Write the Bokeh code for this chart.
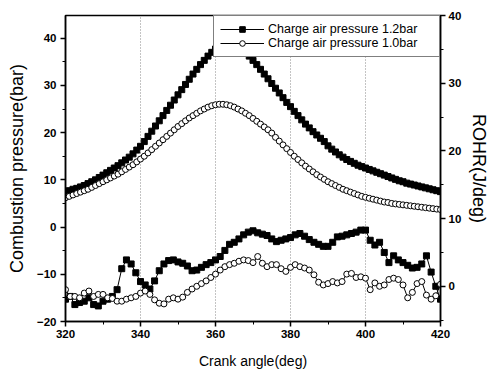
import numpy as np
from bokeh.plotting import figure
from bokeh.models import Range1d, LinearAxis, Legend, LegendItem, FixedTicker
from bokeh.embed import file_html
from bokeh.resources import INLINE

# ---------------- data ----------------
angle_p = np.arange(320, 421, 1.0)  # crank angle grid for pressure (deg)
pressure_12 = [
    7.5, 7.7, 8.0, 8.2, 8.5, 8.8, 9.2, 9.6, 10.0, 10.5,
    11.0, 11.5, 12.0, 12.5, 13.0, 13.6, 14.2, 14.8, 15.5, 16.3,
    17.1, 18.1, 19.2, 20.3, 21.4, 22.5, 23.6, 24.7, 25.8, 26.9,
    28.0, 29.1, 30.2, 31.3, 32.4, 33.4, 34.4, 35.3, 36.2, 37.0,
    37.7, 38.3, 38.8, 39.1, 39.2, 39.1, 38.7, 38.0, 37.1, 36.2,
    35.3, 34.4, 33.4, 32.4, 31.4, 30.4, 29.4, 28.4, 27.4, 26.4,
    25.5, 24.5, 23.6, 22.7, 21.8, 21.0, 20.2, 19.5, 18.8, 18.1,
    17.2, 16.5, 15.9, 15.3, 14.8, 14.3, 13.9, 13.5, 13.1, 12.8,
    12.5, 12.2, 11.9, 11.6, 11.3, 11.0, 10.7, 10.4, 10.1, 9.8,
    9.6, 9.3, 9.1, 8.9, 8.7, 8.5, 8.3, 8.1, 7.9, 7.7,
    7.5,
]
pressure_10 = [
    6.2, 6.5, 6.8, 7.1, 7.4, 7.7, 8.0, 8.4, 8.8, 9.2,
    9.6, 10.0, 10.4, 10.8, 11.2, 11.7, 12.2, 12.7, 13.2, 13.8,
    14.4, 15.0, 15.7, 16.4, 17.1, 17.8, 18.5, 19.2, 19.9, 20.6,
    21.3, 21.9, 22.5, 23.1, 23.6, 24.1, 24.6, 25.0, 25.4, 25.7,
    25.9, 26.0, 26.0, 25.9, 25.7, 25.4, 25.0, 24.6, 24.1, 23.6,
    23.0, 22.4, 21.8, 21.2, 20.6, 19.9, 19.0, 18.2, 17.4, 16.6,
    15.8, 15.0, 14.3, 13.6, 12.9, 12.3, 11.7, 11.1, 10.6, 10.1,
    9.6, 9.2, 8.8, 8.4, 8.0, 7.7, 7.4, 7.1, 6.8, 6.5,
    6.3, 6.1, 5.9, 5.7, 5.5, 5.3, 5.2, 5.0, 4.9, 4.8,
    4.7, 4.6, 4.5, 4.4, 4.3, 4.2, 4.1, 4.0, 3.9, 3.8,
    3.7,
]

angle_r = np.arange(320, 420.01, 1.25)  # crank angle grid for ROHR (deg)
rohr_12 = [
    -1.9, -1.5, -2.7, -2.4, -2.2, -1.7, -2.7, -2.9, -2.2, -1.9,
    -1.5, -0.5, 2.6, 3.9, 3.3, 2.0, 0.7, 0.2, -0.4, 0.8,
    2.3, 3.3, 3.8, 3.9, 3.6, 3.4, 3.0, 2.3, 2.4, 2.8,
    3.2, 3.5, 3.9, 4.4, 5.3, 6.2, 6.5, 7.0, 7.6, 8.0,
    8.2, 7.9, 7.7, 7.5, 7.0, 6.6, 6.8, 7.0, 7.2, 7.6,
    7.8, 7.4, 6.9, 6.5, 6.2, 5.9, 5.9, 6.5, 7.3, 7.4,
    7.6, 7.8, 8.0, 8.3, 8.3, 6.8, 6.1, 6.5, 5.0, 3.5,
    4.5, 3.9, 3.5, 3.1, 2.7, 2.8, 3.3, 4.5, 2.1, 0.0,
    -1.9,
]
rohr_10 = [
    -0.5, -1.5, -1.5, -1.7, -1.0, -0.7, -1.5, -1.2, -1.2, -1.7,
    -1.8, -2.2, -2.2, -1.9, -1.7, -1.5, -1.0, -0.7, -1.2, -2.0,
    -2.5, -2.6, -1.9, -1.7, -1.9, -1.6, -0.9, -0.4, 0.0, 0.4,
    0.8, 1.3, 1.8, 2.4, 2.9, 3.2, 3.4, 3.7, 3.9, 3.8,
    3.5, 4.4, 3.4, 2.9, 3.2, 3.2, 2.6, 2.2, 2.8, 3.2,
    2.9, 2.7, 2.4, 1.7, 0.6, 0.2, 0.4, 0.7, 0.5, 0.7,
    1.8, 1.9, 1.3, 1.4, 1.2, -0.5, 0.5, 0.0, 0.2, 1.0,
    1.2, 1.0, 0.2, -1.7, -0.9, 0.4, 0.7, -1.3, -1.9, -1.4,
    0.3,
]

legend_labels = ["Charge air pressure 1.2bar", "Charge air pressure 1.0bar"]
x_ticks = [320, 340, 360, 380, 400, 420]
left_ticks = [-20, -10, 0, 10, 20, 30, 40]
right_ticks = [0, 10, 20, 30, 40]

FONT = "Liberation Sans"

# ---------------- figure ----------------
p = figure(
    width=492, height=371,
    x_range=Range1d(320, 420), y_range=Range1d(-20, 44.8),
    output_backend="svg", toolbar_location=None,
    min_border_left=65, min_border_right=50, min_border_top=15, min_border_bottom=49,
)
p.extra_y_ranges = {"rohr": Range1d(-5.2, 40)}

p.outline_line_color = "black"
p.outline_line_width = 1.5
p.background_fill_color = "white"
p.border_fill_color = "white"

# grid
p.ygrid.visible = False
p.xgrid.grid_line_color = "#888888"
p.xgrid.grid_line_dash = "1 2"
p.xgrid.grid_line_width = 1

def style_axis(ax):
    ax.axis_line_color = "black"
    ax.axis_line_width = 1.5
    ax.major_tick_line_color = "black"
    ax.major_tick_line_width = 1.5
    ax.minor_tick_line_color = "black"
    ax.major_tick_in = 0
    ax.major_tick_out = 5
    ax.minor_tick_in = 0
    ax.minor_tick_out = 3
    ax.major_label_text_font = FONT
    ax.major_label_text_font_size = "11.5px"
    ax.major_label_text_font_style = "bold"
    ax.major_label_text_color = "black"
    ax.axis_label_text_font = FONT
    ax.axis_label_text_font_size = "14px"
    ax.axis_label_text_font_style = "normal"
    ax.axis_label_text_color = "black"

xa = p.xaxis[0]
xa.ticker = FixedTicker(ticks=x_ticks, minor_ticks=list(range(320, 421, 10)))
xa.axis_label = "Crank angle(deg)"
style_axis(xa)
xa.major_label_standoff = 3
xa.axis_label_standoff = 12

ya = p.yaxis[0]
ya.ticker = FixedTicker(ticks=left_ticks, minor_ticks=list(range(-20, 45, 5)))
ya.axis_label = "Combustion pressure(bar)"
style_axis(ya)
ya.axis_label_text_font_size = "18px"
ya.major_label_standoff = 4
ya.axis_label_standoff = 7

ra = LinearAxis(y_range_name="rohr", axis_label="ROHR(J/deg)")
ra.ticker = FixedTicker(ticks=right_ticks, minor_ticks=list(range(-5, 41, 5)))
style_axis(ra)
ra.axis_label_text_font_size = "18px"
ra.major_label_standoff = 3
ra.axis_label_standoff = 5
p.add_layout(ra, "right")

p.xgrid.ticker = FixedTicker(ticks=x_ticks)

# ---------------- glyphs ----------------
l1 = p.line(angle_p, pressure_12, line_color="black", line_width=1)
s1 = p.scatter(angle_p, pressure_12, marker="square", size=6, fill_color="black", line_color="black")
l2 = p.line(angle_p, pressure_10, line_color="black", line_width=1)
s2 = p.scatter(angle_p, pressure_10, marker="circle", size=6, fill_color="white", line_color="black", line_width=1)

p.line(angle_r, rohr_12, line_color="black", line_width=1, y_range_name="rohr")
p.scatter(angle_r, rohr_12, marker="square", size=6, fill_color="black", line_color="black", y_range_name="rohr")
p.line(angle_r, rohr_10, line_color="black", line_width=1, y_range_name="rohr")
p.scatter(angle_r, rohr_10, marker="circle", size=6, fill_color="white", line_color="black", line_width=1, y_range_name="rohr")

legend = Legend(
    items=[LegendItem(label=legend_labels[0], renderers=[l1, s1]),
           LegendItem(label=legend_labels[1], renderers=[l2, s2])],
    location="top_right",
    margin=0, padding=6, spacing=0,
    glyph_width=44, glyph_height=14, label_height=14, label_standoff=4,
    label_width=165,
    label_text_font=FONT, label_text_font_size="12.5px", label_text_color="black",
    border_line_color="black", border_line_width=1.5,
    background_fill_color="white", background_fill_alpha=1.0,
)
p.add_layout(legend, "center")

open("out.html", "w").write(file_html(p, INLINE))
